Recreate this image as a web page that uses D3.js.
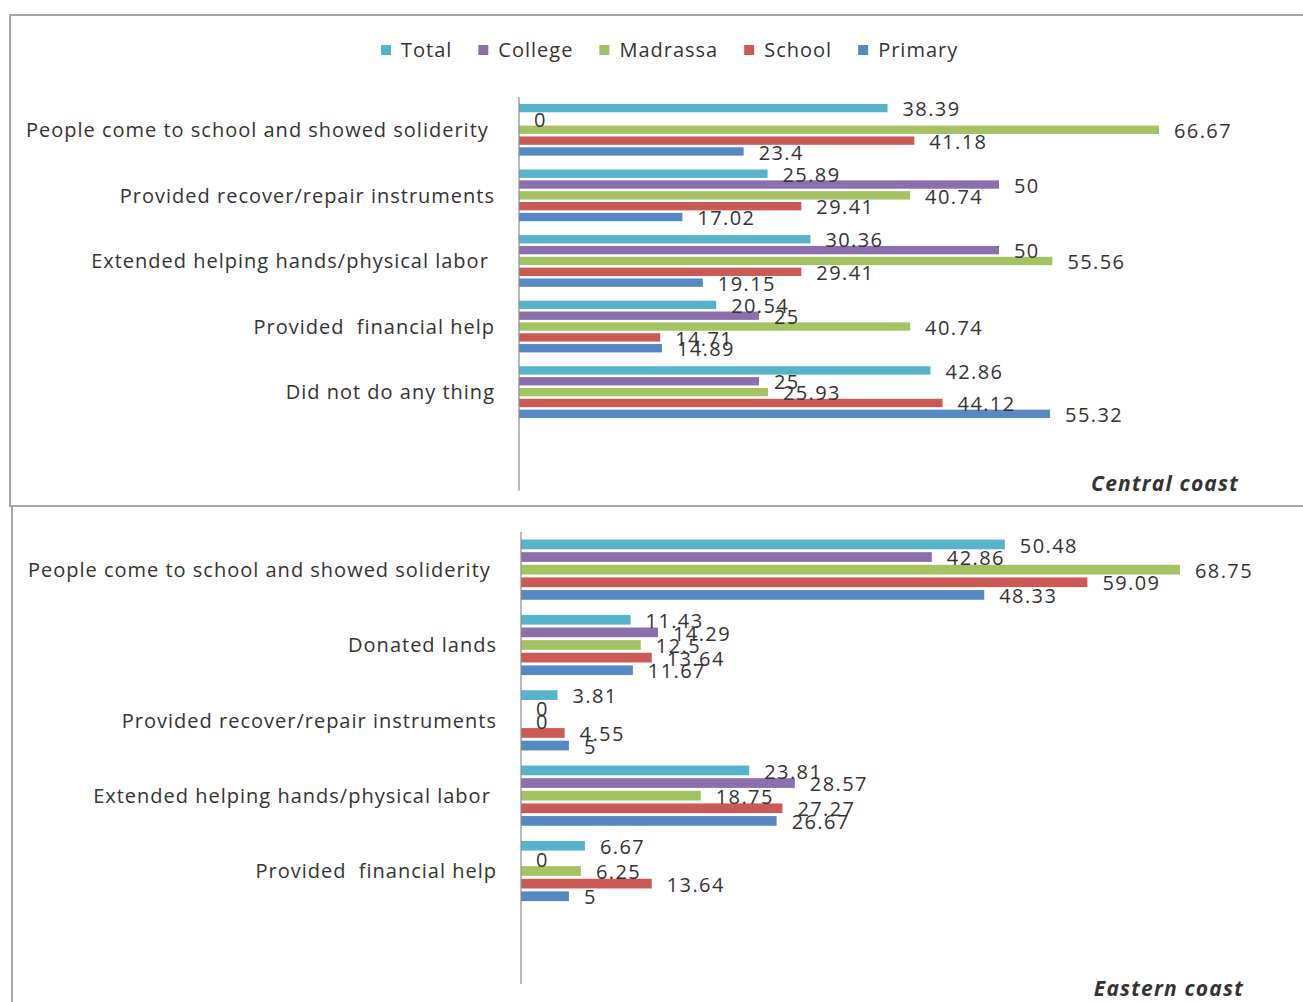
<!DOCTYPE html>
<html>
<head>
<meta charset="utf-8">
<script src="https://cdn.jsdelivr.net/npm/d3@7"></script>
<style>
  body { margin: 0; background: #fff; }
  svg { display: block; }
  text { font-family: "Open Sans", sans-serif; fill: #333; white-space: pre; }
</style>
</head>
<body>
<div id="chart"></div>
<script>
// series (top to bottom inside each group)
const seriesNames = ["Total", "College", "Madrassa", "School", "Primary"];
const seriesColors = ["#56b3cb", "#8a6ead", "#a5c262", "#cb5a56", "#5689c4"];

// Central coast
const centralCategories = [
    "People come to school and showed soliderity ",
    "Provided recover/repair instruments",
    "Extended helping hands/physical labor ",
    "Provided  financial help",
    "Did not do any thing"
];
const centralTotal    = [38.39, 25.89, 30.36, 20.54, 42.86];
const centralCollege  = [0, 50, 50, 25, 25];
const centralMadrassa = [66.67, 40.74, 55.56, 40.74, 25.93];
const centralSchool   = [41.18, 29.41, 29.41, 14.71, 44.12];
const centralPrimary  = [23.4, 17.02, 19.15, 14.89, 55.32];

// Eastern coast
const easternCategories = [
    "People come to school and showed soliderity ",
    "Donated lands",
    "Provided recover/repair instruments",
    "Extended helping hands/physical labor ",
    "Provided  financial help"
];
const easternTotal    = [50.48, 11.43, 3.81, 23.81, 6.67];
const easternCollege  = [42.86, 14.29, 0, 28.57, 0];
const easternMadrassa = [68.75, 12.5, 0, 18.75, 6.25];
const easternSchool   = [59.09, 13.64, 4.55, 27.27, 13.64];
const easternPrimary  = [48.33, 11.67, 5, 26.67, 5];

const W = 1303, H = 1002;
const svg = d3.select("#chart").append("svg")
    .attr("width", W)
    .attr("height", H);

// panel frames
const frame = svg.append("g")
    .attr("stroke", "#a6a6a6")
    .attr("stroke-width", 2)
    .attr("fill", "none");
frame.append("path").attr("d", `M1303,15 L10,15 L10,506 L1303,506`);
frame.append("path").attr("d", `M12,507 L12,1002`);

// legend
const legend = svg.append("g");
let lx = 0;
seriesNames.forEach((name, i) => {
    const item = legend.append("g").attr("transform", `translate(${lx},0)`);
    item.append("rect")
        .attr("x", 0).attr("y", -5)
        .attr("width", 10).attr("height", 10)
        .attr("fill", seriesColors[i]);
    const t = item.append("text")
        .attr("x", 20).attr("y", 0)
        .attr("dy", "0.36em")
        .attr("font-size", 20)
        .attr("letter-spacing", 1)
        .text(name);
    lx += 20 + t.node().getComputedTextLength() + 26;
});
legend.attr("transform", `translate(${381},50)`);

function drawPanel(cfg) {
    const cats = cfg.categories.concat([""]); // empty slot at the bottom, like the original
    const values = cfg.values;

    const x = d3.scaleLinear().domain([0, 70]).range([cfg.x0, cfg.x0 + 70 * cfg.pxPerUnit]);
    const y = d3.scaleBand().domain(d3.range(cats.length)).range([cfg.y0, cfg.y1]);
    const ys = d3.scaleBand().domain(seriesNames)
        .range([0, y.bandwidth()])
        .paddingInner(0.23)
        .paddingOuter(cfg.outer);

    const g = svg.append("g");

    // bars
    seriesNames.forEach((s, si) => {
        g.append("g").selectAll("rect")
            .data(values[si])
            .enter().append("rect")
            .attr("x", x(0))
            .attr("y", (d, ci) => y(ci) + ys(s))
            .attr("width", d => x(d) - x(0))
            .attr("height", ys.bandwidth())
            .attr("fill", seriesColors[si]);
    });

    // axis line
    g.append("line")
        .attr("x1", x(0)).attr("x2", x(0))
        .attr("y1", cfg.y0).attr("y2", cfg.y1)
        .attr("stroke", "#8c8c8c")
        .attr("stroke-width", 1.2);

    // category labels
    g.append("g").selectAll("text")
        .data(cfg.categories)
        .enter().append("text")
        .attr("x", cfg.labelX)
        .attr("y", (d, i) => y(i) + y.bandwidth() / 2)
        .attr("dy", "0.36em")
        .attr("text-anchor", "end")
        .attr("font-size", 20)
        .attr("letter-spacing", 1)
        .text(d => d);

    // value labels
    seriesNames.forEach((s, si) => {
        g.append("g").selectAll("text")
            .data(values[si])
            .enter().append("text")
            .attr("x", d => x(d) + 15)
            .attr("y", (d, ci) => y(ci) + ys(s) + ys.bandwidth() / 2 + 1)
            .attr("dy", "0.36em")
            .attr("font-size", 20)
            .attr("letter-spacing", 1.4)
            .text(d => d);
    });

    // panel title
    g.append("text")
        .attr("x", cfg.titleX)
        .attr("y", cfg.titleY)
        .attr("dy", "0.36em")
        .attr("text-anchor", "end")
        .attr("font-size", 21)
        .attr("font-weight", "bold")
        .attr("font-style", "italic")
        .attr("letter-spacing", 1.2)
        .attr("fill", "#000")
        .text(cfg.title);
}

drawPanel({
    categories: centralCategories,
    values: [centralTotal, centralCollege, centralMadrassa, centralSchool, centralPrimary],
    x0: 519, pxPerUnit: 9.6,
    y0: 97, y1: 490.5,
    outer: 0.64,
    labelX: 495,
    title: "Central coast", titleX: 1239, titleY: 483
});

drawPanel({
    categories: easternCategories,
    values: [easternTotal, easternCollege, easternMadrassa, easternSchool, easternPrimary],
    x0: 521, pxPerUnit: 9.585,
    y0: 532, y1: 984,
    outer: 0.6,
    labelX: 497,
    title: "Eastern coast", titleX: 1244, titleY: 988
});
</script>
</body>
</html>
